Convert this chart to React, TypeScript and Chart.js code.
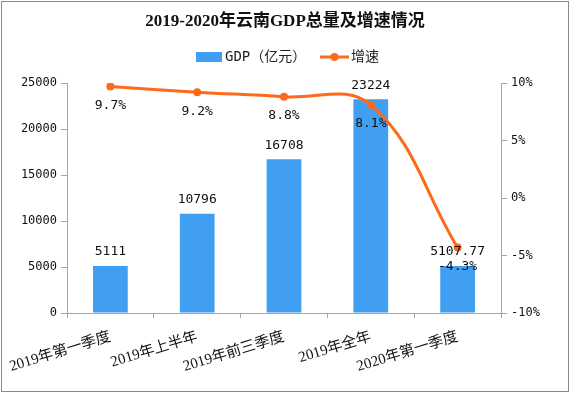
import React, { useEffect, useRef } from "react";
import { Chart, registerables } from "chart.js";

Chart.register(...registerables);

const categories = ["2019年第一季度", "2019年上半年", "2019年前三季度", "2019年全年", "2020年第一季度"];
const gdpValues = [5111, 10796, 16708, 23224, 5107.77];
const gdpLabels = ["5111", "10796", "16708", "23224", "5107.77"];
const growthValues = [9.7, 9.2, 8.8, 8.1, -4.3];
const growthLabels = ["9.7%", "9.2%", "8.8%", "8.1%", "-4.3%"];
const leftTicks = [0, 5000, 10000, 15000, 20000, 25000];
const rightTicks = [-10, -5, 0, 5, 10];

const BAR = "#409ef3";
const LINE = "#ff6a1a";
const AXIS = "#a6a6a6";
const MONO = '"DejaVu Sans Mono", "Noto Sans CJK SC"';
const SERIF = '"Liberation Serif", "Noto Sans CJK SC"';

const decorPlugin = {
  id: "decor",
  beforeDraw(chart: any) {
    const ctx = chart.ctx;
    ctx.save();
    ctx.fillStyle = "#ffffff";
    ctx.fillRect(0, 0, chart.width, chart.height);
    ctx.restore();
  },
  afterDraw(chart: any) {
    const ctx = chart.ctx;
    ctx.save();
    ctx.strokeStyle = "#8a8a8a";
    ctx.lineWidth = 1;
    ctx.strokeRect(1.5, 1.5, 567, 390);
    // legend
    const cy = 57;
    ctx.fillStyle = BAR;
    ctx.fillRect(196, cy - 5, 26, 10);
    ctx.font = '14px ' + MONO;
    ctx.fillStyle = "#222";
    ctx.textBaseline = "middle";
    ctx.textAlign = "left";
    ctx.fillText("GDP（亿元）", 225, cy);
    ctx.strokeStyle = LINE;
    ctx.lineWidth = 3;
    ctx.beginPath();
    ctx.moveTo(320, cy);
    ctx.lineTo(349, cy);
    ctx.stroke();
    ctx.fillStyle = LINE;
    ctx.beginPath();
    ctx.arc(334.5, cy, 4, 0, Math.PI * 2);
    ctx.fill();
    ctx.fillStyle = "#222";
    ctx.fillText("增速", 351, cy);
    ctx.restore();
  },
  afterDatasetsDraw(chart: any) {
    const ctx = chart.ctx;
    ctx.save();
    ctx.font = '13px ' + MONO;
    ctx.fillStyle = "#111";
    ctx.textAlign = "center";
    ctx.textBaseline = "middle";
    const barMeta = chart.getDatasetMeta(0);
    barMeta.data.forEach((el: any, i: number) => {
      ctx.fillText(gdpLabels[i], el.x, el.y - 14);
    });
    const lineMeta = chart.getDatasetMeta(1);
    lineMeta.data.forEach((el: any, i: number) => {
      ctx.fillText(growthLabels[i], el.x, el.y + 19);
    });
    ctx.restore();
  },
};

export default function App() {
  const ref = useRef<HTMLCanvasElement | null>(null);
  useEffect(() => {
    if (!ref.current) return;
    const chart = new Chart(ref.current, {
      type: "bar",
      data: {
        labels: categories,
        datasets: [
          {
            type: "bar",
            label: "GDP（亿元）",
            data: gdpValues,
            backgroundColor: BAR,
            yAxisID: "y",
            barPercentage: 0.4,
            categoryPercentage: 1,
            order: 2,
          },
          {
            type: "line",
            label: "增速",
            data: growthValues,
            borderColor: LINE,
            backgroundColor: LINE,
            borderWidth: 3,
            pointRadius: 4,
            pointBackgroundColor: LINE,
            pointBorderWidth: 0,
            tension: 0.4,
            yAxisID: "y1",
            order: 1,
          },
        ],
      },
      options: {
        responsive: false,
        animation: false,
        layout: { padding: 0 },
        plugins: {
          legend: { display: false },
          tooltip: { enabled: false },
          title: {
            display: true,
            text: "2019-2020年云南GDP总量及增速情况",
            color: "#111",
            font: { size: 17, weight: "bold", family: SERIF },
            padding: { top: 11.8, bottom: 50.8 },
          },
        },
        scales: {
          x: {
            offset: true,
            grid: { offset: true, drawOnChartArea: false, drawTicks: true, tickLength: 5, color: AXIS },
            border: { display: true, color: AXIS },
            ticks: {
              color: "#111",
              font: { size: 15, family: SERIF },
              minRotation: 17,
              maxRotation: 17,
              autoSkip: false,
              padding: 10,
            },
            afterFit(scale: any) {
              scale.height = 81;
              scale.paddingLeft = 0;
              scale.paddingRight = 0;
            },
          },
          y: {
            position: "left",
            min: 0,
            max: 25000,
            afterBuildTicks(scale: any) {
              scale.ticks = leftTicks.map((v) => ({ value: v }));
            },
            grid: { drawOnChartArea: false, drawTicks: true, tickLength: 6, color: AXIS },
            border: { display: true, color: AXIS },
            ticks: {
              color: "#111",
              font: { size: 12, family: MONO },
              padding: 4,
              callback: (v: any) => String(v),
            },
            afterFit(scale: any) {
              scale.width = 67;
            },
          },
          y1: {
            position: "right",
            min: -10,
            max: 10,
            afterBuildTicks(scale: any) {
              scale.ticks = rightTicks.map((v) => ({ value: v }));
            },
            grid: { drawOnChartArea: false, drawTicks: true, tickLength: 6, color: AXIS },
            border: { display: true, color: AXIS },
            ticks: {
              color: "#111",
              font: { size: 12, family: MONO },
              padding: 4,
              callback: (v: any) => v + "%",
            },
            afterFit(scale: any) {
              scale.width = 69;
            },
          },
        },
      },
      plugins: [decorPlugin],
    } as any);
    return () => chart.destroy();
  }, []);
  return (
    <div style={{ position: "fixed", left: 0, top: 0, width: 570, height: 394 }}>
      <canvas ref={ref} width={570} height={394} style={{ display: "block" }} />
    </div>
  );
}
